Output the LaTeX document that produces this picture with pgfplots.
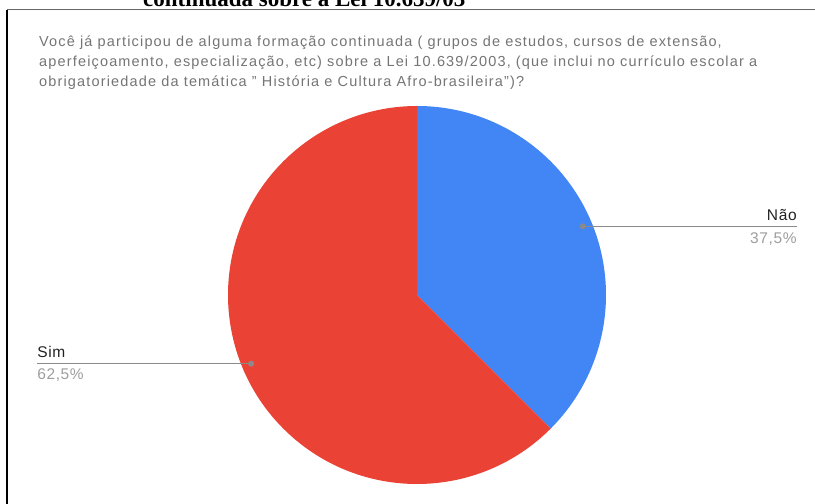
\documentclass[border=0pt]{standalone}
\usepackage{pgfplots}
\pgfplotsset{compat=1.18}
\usepackage{pgfplotstable}
\usepackage{fontspec}
\setmainfont{Liberation Sans}
\newfontfamily\titlefont{Liberation Serif}

\definecolor{nao}{HTML}{4285F4}
\definecolor{sim}{HTML}{EA4335}
\definecolor{qgray}{HTML}{757575}
\definecolor{pgray}{HTML}{9E9E9E}
\definecolor{lgray}{HTML}{8A8A8A}
\definecolor{dark}{HTML}{222222}

\pgfplotstableread{
label value
Não 37.5
Sim 62.5
}\piedata

\begin{document}
\begin{tikzpicture}
\useasboundingbox (0pt,0pt) rectangle (815pt,504pt);
\clip (0pt,0pt) rectangle (815pt,504pt);
\fill[white] (0pt,0pt) rectangle (815pt,504pt);

% cut-off heading of the page above
\node[anchor=base west, inner sep=0pt, font=\titlefont\bfseries\fontsize{23}{25}\selectfont]
  at (143pt,497pt) {continuada sobre a Lei 10.639/03};

% frame
\draw[gray!80!black, line width=1pt] (7pt,494pt) -- (815pt,494pt);
\draw[black, line width=2pt] (7pt,494pt) -- (7pt,0pt);

% chart title
\node[anchor=north west, inner sep=0pt, align=left, text=qgray,
      font=\fontsize{14.5}{20}\selectfont\addfontfeature{LetterSpace=8}] at (39pt,468pt)
  {Você já participou de alguma formação continuada ( grupos de estudos, cursos de extensão,\\
   aperfeiçoamento, especialização, etc) sobre a Lei 10.639/2003, (que inclui no currículo escolar a\\
   obrigatoriedade da temática " História e Cultura Afro-brasileira")?};

\begin{axis}[
    at={(417pt,209pt)}, anchor=center,
    scale only axis, width=378pt, height=378pt,
    xmin=-1, xmax=1, ymin=-1, ymax=1,
    hide axis, clip=false,
  ]
  \pgfplotstablegetelem{0}{value}\of\piedata \let\vA\pgfplotsretval
  \pgfplotstablegetelem{1}{value}\of\piedata \let\vB\pgfplotsretval
  \pgfmathsetmacro\aEnd{90-3.6*\vA}
  \pgfmathsetmacro\bEnd{\aEnd-3.6*\vB}
  \pgfmathsetmacro\mA{90-1.8*\vA}
  \pgfmathsetmacro\mB{\aEnd-1.8*\vB}
  % dot positions and leader ends (axis units, radius 1 = 189pt)
  \pgfmathsetmacro\axA{0.95*cos(\mA)} \pgfmathsetmacro\ayA{0.95*sin(\mA)}
  \pgfmathsetmacro\axB{0.95*cos(\mB)} \pgfmathsetmacro\ayB{0.95*sin(\mB)}
  \pgfmathsetmacro\exA{\axA+214/189} \pgfmathsetmacro\exB{\axB-214/189}
  \fill[nao] (axis cs:0,0) -- (axis cs:0,1)
     arc[start angle=90, end angle=\aEnd, radius=189pt] -- cycle;
  \fill[sim] (axis cs:0,0) -- (axis cs:{cos(\aEnd)},{sin(\aEnd)})
     arc[start angle=\aEnd, end angle=\bEnd, radius=189pt] -- cycle;

  % leader lines and labels
  \draw[lgray, line width=1pt] (axis cs:\axA,\ayA) -- (axis cs:\exA,\ayA);
  \node[anchor=base east, inner sep=0pt, text=dark, font=\fontsize{15.5}{16}\selectfont\addfontfeature{LetterSpace=4}]
     at ([yshift=6pt]axis cs:\exA,\ayA) {Não};
  \node[anchor=base east, inner sep=0pt, text=pgray, font=\fontsize{15.5}{16}\selectfont\addfontfeature{LetterSpace=4}]
     at ([yshift=-17pt]axis cs:\exA,\ayA) {37,5\%};
  \fill[lgray] (axis cs:\axA,\ayA) circle[radius=3pt];
  \draw[lgray, line width=1pt] (axis cs:\axB,\ayB) -- (axis cs:\exB,\ayB);
  \node[anchor=base west, inner sep=0pt, text=dark, font=\fontsize{15.5}{16}\selectfont\addfontfeature{LetterSpace=4}]
     at ([yshift=6pt]axis cs:\exB,\ayB) {Sim};
  \node[anchor=base west, inner sep=0pt, text=pgray, font=\fontsize{15.5}{16}\selectfont\addfontfeature{LetterSpace=4}]
     at ([yshift=-16pt]axis cs:\exB,\ayB) {62,5\%};
  \fill[lgray] (axis cs:\axB,\ayB) circle[radius=3pt];
\end{axis}
\end{tikzpicture}
\end{document}
